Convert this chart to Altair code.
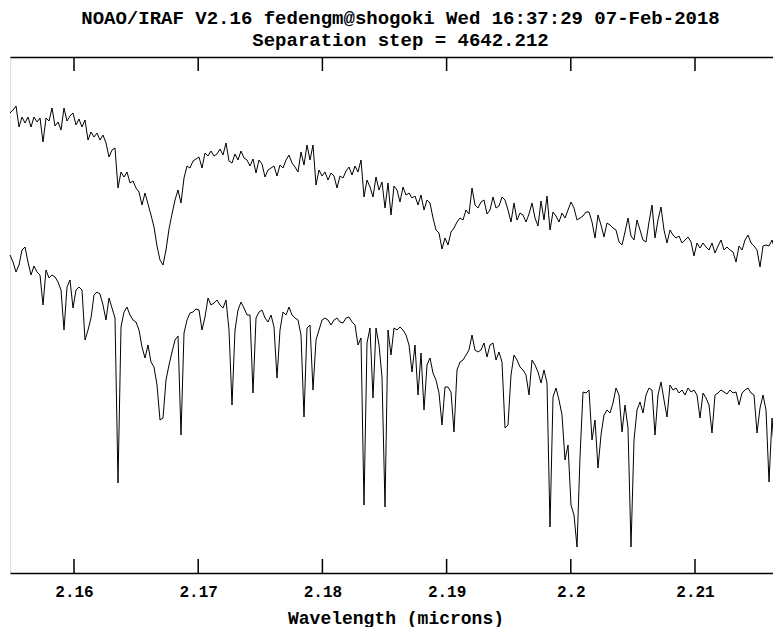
import altair as alt
import numpy as np
import pandas as pd

# ---- text -------------------------------------------------------------
title_lines = ["NOAO/IRAF V2.16 fedengm@shogoki Wed 16:37:29 07-Feb-2018",
               "Separation step = 4642.212"]
x_title = "Wavelength (microns)"
tick_values = [2.16, 2.17, 2.18, 2.19, 2.2, 2.21]

# ---- linear dispersion solution (microns) -----------------------------
wl_start = 2.154847
wl_step = 0.00024155
wl_min, wl_max = 2.154847, 2.216924

# ---- flux (arbitrary units) ------------------------------------------
flux_upper = [
    460, 463, 467, 446, 456, 450, 456, 446, 456, 451,
    455, 431, 455, 452, 465, 447, 451, 443, 465, 452,
    457, 460, 448, 454, 446, 453, 433, 441, 436, 440,
    433, 438, 430, 416, 423, 425, 385, 401, 396, 401,
    390, 392, 385, 381, 368, 380, 369, 358, 346, 327,
    313, 308, 323, 344, 359, 373, 383, 370, 395, 407,
    405, 412, 414, 416, 405, 420, 417, 422, 417, 419,
    424, 418, 430, 412, 410, 419, 413, 422, 415, 413,
    407, 414, 400, 413, 409, 396, 403, 405, 407, 397,
    408, 405, 413, 418, 410, 406, 401, 421, 408, 428,
    413, 428, 388, 403, 397, 401, 393, 400, 397, 385,
    397, 395, 402, 406, 398, 407, 401, 413, 376, 393,
    386, 376, 396, 383, 391, 365, 390, 358, 387, 383,
    371, 386, 378, 380, 375, 377, 368, 378, 363, 373,
    370, 355, 343, 340, 324, 335, 328, 341, 345, 351,
    355, 353, 363, 359, 385, 368, 365, 371, 373, 359,
    363, 376, 365, 367, 376, 373, 363, 351, 370, 353,
    360, 358, 351, 359, 370, 355, 347, 372, 353, 377,
    343, 361, 357, 351, 360, 355, 363, 371, 365, 353,
    355, 357, 361, 361, 351, 335, 358, 348, 336, 350,
    348, 345, 343, 331, 328, 341, 355, 337, 333, 353,
    343, 333, 331, 351, 368, 335, 353, 366, 343, 330,
    343, 338, 335, 337, 330, 333, 336, 331, 317, 330,
    325, 330, 326, 323, 330, 320, 327, 333, 323, 326,
    323, 321, 311, 327, 323, 333, 338, 330, 327, 323,
    306, 327, 328, 327, 333, 323, 311, 326,
]

flux_lower = [
    318, 311, 301, 308, 323, 326, 311, 298, 307, 301,
    298, 268, 303, 295, 298, 296, 291, 283, 243, 286,
    293, 265, 283, 286, 283, 233, 243, 255, 278, 281,
    279, 268, 253, 275, 265, 255, 90, 246, 261, 266,
    258, 253, 251, 243, 226, 215, 228, 211, 206, 188,
    153, 155, 193, 208, 221, 233, 237, 138, 240, 253,
    260, 261, 264, 263, 243, 256, 275, 268, 270, 273,
    268, 265, 273, 243, 168, 243, 263, 271, 265, 258,
    258, 180, 255, 261, 263, 255, 251, 258, 246, 195,
    243, 261, 258, 266, 258, 255, 253, 238, 156, 245,
    248, 183, 233, 243, 253, 255, 253, 248, 253, 255,
    251, 250, 255, 256, 251, 248, 228, 235, 68, 230,
    245, 175, 245, 228, 196, 66, 243, 218, 245, 243,
    246, 243, 238, 228, 201, 228, 178, 220, 163, 208,
    215, 200, 193, 180, 148, 186, 186, 181, 141, 203,
    211, 213, 218, 223, 238, 223, 221, 223, 230, 216,
    228, 230, 213, 221, 211, 145, 148, 198, 218, 213,
    206, 203, 198, 178, 213, 208, 201, 190, 203, 190,
    46, 176, 185, 173, 158, 113, 128, 68, 58, 26,
    116, 181, 180, 183, 133, 153, 105, 138, 158, 163,
    160, 170, 185, 178, 141, 168, 145, 26, 133, 163,
    171, 160, 178, 185, 183, 138, 178, 191, 173, 156,
    188, 183, 185, 180, 183, 178, 185, 181, 183, 178,
    155, 180, 175, 168, 140, 178, 180, 183, 181, 179,
    183, 180, 181, 168, 180, 183, 185, 180, 178, 140,
    165, 178, 163, 91, 155, 113, 81, 166,
]

flux_min, flux_max = 0, 516

# ---- tables --------------------------------------------------------------
def table(flux):
    idx = np.arange(len(flux))
    return pd.DataFrame({"wavelength": wl_start + wl_step * idx, "flux": flux})

upper_df = table(flux_upper)
lower_df = table(flux_lower)
ticks_df = pd.DataFrame({"wavelength": tick_values})

W, H = 763, 516          # visible plot box (the frame runs off the right edge)
X_RANGE = 771            # full length of the wavelength axis
TICK = 14
FONT = "Liberation Mono"

xscale = alt.Scale(domain=[wl_min, wl_max], range=[0, X_RANGE], nice=False, zero=False)
yscale = alt.Scale(domain=[flux_min, flux_max], nice=False, zero=False)

bottom_axis = alt.Axis(orient="bottom", values=tick_values, format="~g",
                       ticks=False, grid=False, domain=True,
                       domainColor="black", domainWidth=1.5,
                       labelFont=FONT, labelFontSize=16, labelFontWeight="bold",
                       labelColor="black", labelPadding=10,
                       title=x_title, titleFont=FONT, titleFontSize=18,
                       titleFontWeight="bold", titleColor="black",
                       titlePadding=10)
top_axis = alt.Axis(orient="top", ticks=False, labels=False, grid=False,
                    domain=True, domainColor="black", domainWidth=1.5,
                    title=None)
left_axis = alt.Axis(orient="left", ticks=False, labels=False, grid=False,
                     domain=True, domainColor="black", domainWidth=1.5,
                     title=None)

upper = alt.Chart(upper_df).mark_line(color="black", strokeWidth=1).encode(
    x=alt.X("wavelength:Q", scale=xscale, axis=bottom_axis),
    y=alt.Y("flux:Q", scale=yscale, axis=left_axis),
)
lower = alt.Chart(lower_df).mark_line(color="black", strokeWidth=1).encode(
    x=alt.X("wavelength:Q", scale=xscale, axis=top_axis),
    y=alt.Y("flux:Q", scale=yscale, axis=None),
)
top_ticks = alt.Chart(ticks_df).mark_rule(color="black", strokeWidth=1.5).encode(
    x=alt.X("wavelength:Q", scale=xscale, axis=None),
    y=alt.value(0), y2=alt.value(TICK),
)
bottom_ticks = alt.Chart(ticks_df).mark_rule(color="black", strokeWidth=1.5).encode(
    x=alt.X("wavelength:Q", scale=xscale, axis=None),
    y=alt.value(H - TICK), y2=alt.value(H),
)

chart = alt.layer(upper, lower, top_ticks, bottom_ticks).resolve_axis(
    x="independent"
).properties(
    width=W, height=H,
    autosize=alt.AutoSizeParams(type="none"),
    padding={"left": 2, "top": 49, "right": 0, "bottom": 54},
    title=alt.TitleParams(text=title_lines, font=FONT, fontSize=19,
                          fontWeight="bold", color="black", anchor="middle",
                          lineHeight=22, offset=6, dx=9),
).configure_view(stroke=None).configure(background="white")

chart.save("out.html", embed_options={"renderer": "svg", "actions": False})
